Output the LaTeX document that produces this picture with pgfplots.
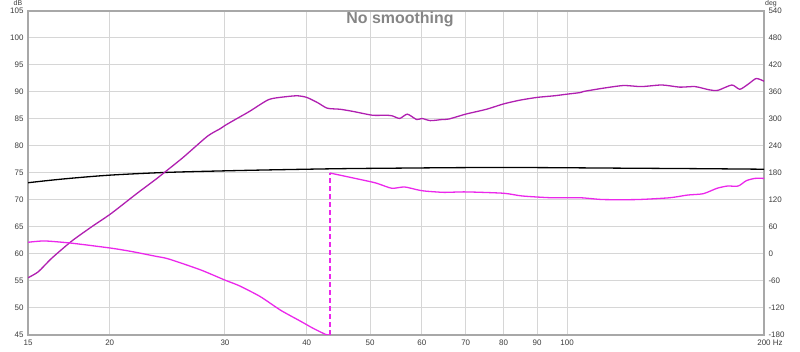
\documentclass[border=0pt]{standalone}
\usepackage{fontspec}
\setmainfont{Liberation Sans}
\usepackage{pgfplots}
\pgfplotsset{compat=1.18}
\definecolor{mag}{RGB}{176,32,176}
\definecolor{pha}{RGB}{235,40,235}
\definecolor{gridc}{RGB}{214,214,214}
\definecolor{framec}{RGB}{168,168,168}
\definecolor{tickc}{RGB}{60,60,60}
\begin{document}
\begin{tikzpicture}
\useasboundingbox (-28bp,-17bp) rectangle (772bp,335bp);
\begin{axis}[
  scale only axis, width=736bp, height=324bp,
  at={(0bp,0bp)}, anchor=south west,
  xmode=log, xmin=15, xmax=200,
  xtick={15,20,30,40,50,60,70,80,90,100,200},
  xticklabels={15,20,30,40,50,60,70,80,90,100,200\rlap{ Hz}},
  tick label style={font=\fontsize{8}{9}\selectfont, text=tickc},
  major tick length=0pt,
  ymin=45, ymax=105, ytick={45,50,...,105},
  yticklabels={45,50,55,60,65,70,75,80,85,90,95,100,105},
  grid=major, grid style={gridc, line width=1bp},
  axis line style={framec, line width=2.2bp},
  yticklabel style={xshift=-1bp},
  xticklabel style={yshift=-1bp},
]
\addplot[black, line width=1.3bp, smooth] coordinates {
(15,73.2) (17,73.9) (20,74.6) (24.3,75.1) (30,75.4) (36,75.6) (45,75.8)
(55,75.9) (70,76.0) (90,76.0) (120,75.9) (160,75.8) (200,75.7)};
\addplot[mag, line width=1.3bp, smooth, tension=0.4] coordinates {
(15,55.6) (15.55,56.7) (16.3,59.2) (17.5,62.4) (18.8,65.1) (20.1,67.5)
(22.0,71.2) (23.5,73.8) (24.3,75.2) (25.9,77.9) (28.2,81.8) (29.5,83.2) (30,83.8)
(31,84.8) (32.7,86.4) (35,88.6) (37,89.1) (38.7,89.3) (40,89.0)
(41.6,88.0) (43,87.0) (45,86.8) (47.1,86.4)
(50.4,85.7) (52.8,85.7) (54,85.6) (55.5,85.1) (57,85.9) (58.9,84.9)
(60,85.1) (61.8,84.7) (64.4,84.9) (66,85.0) (70,85.9) (75.3,86.8)
(80,87.8) (84.8,88.5) (90,89.0) (95.6,89.3) (100,89.6) (104.8,89.9)
(106,90.1) (113.5,90.7) (122,91.2) (129.9,91.0) (139.6,91.3) (148.7,90.9)
(156.9,91.0) (165,90.4) (170,90.3) (178.6,91.3) (183.7,90.5) (189.4,91.5)
(194.6,92.5) (200,92.0)};
\end{axis}
\begin{axis}[
  scale only axis, width=736bp, height=324bp,
  at={(0bp,0bp)}, anchor=south west,
  xmode=log, xmin=15, xmax=200,
  ymin=-180, ymax=540, ytick={-180,-120,...,540},
  yticklabels={-180,-120,-60,0,60,120,180,240,300,360,420,480,540},
  tick label style={font=\fontsize{8}{9}\selectfont, text=tickc},
  major tick length=0pt,
  axis y line*=right, axis x line=none,
  axis line style={draw=none},
  yticklabel style={anchor=west, xshift=1bp},
]
\addplot[pha, line width=1.3bp, smooth, tension=0.4] coordinates {
(15,26) (15.9,29) (17.5,24) (20.1,13) (21.7,5) (23.5,-5) (24.6,-11)
(27.5,-35) (30,-58) (31.6,-71) (34,-95) (36.5,-125) (39.1,-149) (40.9,-165)
(42.8,-179) (43.4,-180)};
\addplot[pha, line width=1.3bp, dash pattern=on 5bp off 3bp] coordinates {(43.4,-180) (43.4,180)};
\addplot[pha, line width=1.3bp, smooth, tension=0.4] coordinates {
(43.4,180) (50.3,160) (51.7,155) (54,146) (56.4,149) (58.9,143) (60.5,140)
(64.8,137) (70,138) (80,135) (85.3,129) (94.6,125) (104.8,125)
(113.5,121) (128,121) (143.5,125) (152.8,131) (161.5,134) (169.5,146)
(175.8,151) (182.6,151) (188,163) (193.7,168) (200,168)};
\end{axis}
\node[font=\fontsize{7}{8}\selectfont, text=tickc, inner sep=0pt] at (-10bp,331.5bp) {dB};
\node[font=\fontsize{7}{8}\selectfont, text=tickc, inner sep=0pt] at (743bp,331.5bp) {deg};
\node[font=\bfseries\fontsize{16}{18}\selectfont, text=black!48] at (372bp,315.5bp) {No smoothing};
\end{tikzpicture}
\end{document}
